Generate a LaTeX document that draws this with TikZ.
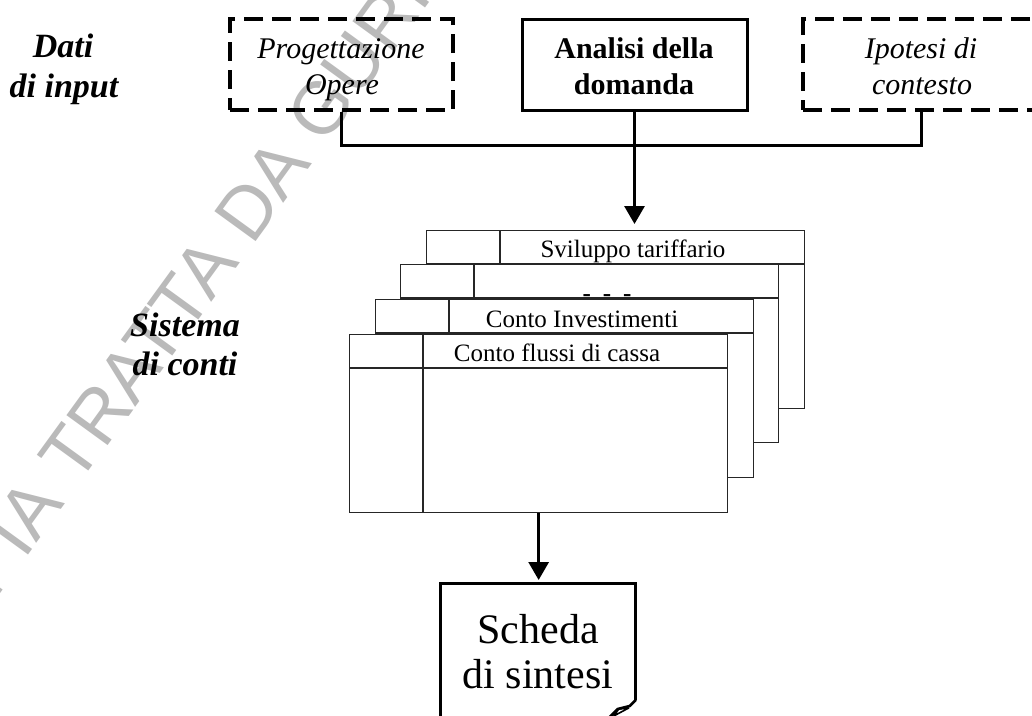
\documentclass[tikz,border=0pt]{standalone}
\usepackage{fontspec}
\setmainfont{Liberation Serif}
\newfontfamily\wmfont{Liberation Sans}
\usetikzlibrary{arrows.meta,calc}
\begin{document}
\begin{tikzpicture}[x=1pt,y=-1pt,
  dbox/.style={draw=black, line width=3.2pt, dash pattern=on 19pt off 9pt, inner sep=0pt},
  sbox/.style={draw=black, line width=3pt, inner sep=0pt},
  card/.style={draw=black!85, line width=1.3pt, fill=white, minimum width=378pt, minimum height=178pt, inner sep=0pt, anchor=north west},
  cardline/.style={draw=black!85, line width=1.3pt},
  conn/.style={line width=3pt, draw=black},
  arr/.style={conn, -{Triangle[length=18pt,width=20pt]}},
  lbl/.style={font=\fontsize{34}{40}\selectfont\bfseries\itshape, anchor=base, inner sep=0pt},
  boxtxt/.style={font=\fontsize{30}{36}\selectfont, anchor=base, inner sep=0pt},
  itxt/.style={boxtxt, font=\fontsize{30}{36}\selectfont\itshape},
  btxt/.style={boxtxt, font=\fontsize{30}{36}\selectfont\bfseries},
  cardtxt/.style={font=\fontsize{25}{30}\selectfont, anchor=base, inner sep=0pt},
  bigtxt/.style={font=\fontsize{42}{48}\selectfont, anchor=base, inner sep=0pt},
  wm/.style={font=\wmfont\fontsize{74}{80}\selectfont, text=black!27, anchor=base west, rotate=54, inner sep=0pt},
]
\useasboundingbox (0,0) rectangle (1032,715);
\clip (0,0) rectangle (1032,715);
\fill[white] (0,0) rectangle (1032,715);

% watermark
\node[wm] (wmark) at (-70,690) {COPIA TRATTA DA GURITEL};

% side labels
\node[lbl] (dati1) at (63,57) {Dati};
\node[lbl] (dati2) at (64,97) {di input};
\node[lbl] (sis1) at (185,336) {Sistema};
\node[lbl] (sis2) at (185,375) {di conti};

% input boxes
\node[dbox, minimum width=223pt, minimum height=91pt] (prog) at (341.5,64.5) {};
\node[sbox, minimum width=225pt, minimum height=91pt] (ana) at (634.5,64.5) {};
\node[dbox, minimum width=236pt, minimum height=91pt] (ipo) at (921,64.5) {};
\node[itxt] (prog1) at (341,58) {Progettazione};
\node[itxt] (prog2) at (342,94) {Opere};
\node[btxt] (ana1) at (634,58) {Analisi della};
\node[btxt] (ana2) at (634,94) {domanda};
\node[itxt] (ipo1) at (921,58) {Ipotesi di};
\node[itxt] (ipo2) at (922,94) {contesto};

% connectors
\coordinate (j) at (634.5,145);
\draw[conn, line join=miter] (prog.south) |- (j) -| (ipo.south);

% cards (back to front)
\node[card] (c1) at (426,230) {};
\draw[cardline] ($(c1.north west)+(0,34)$) -- ($(c1.north east)+(0,34)$);
\draw[cardline] ($(c1.north west)+(74,0)$) -- ($(c1.south west)+(74,0)$);
\node[cardtxt] (t1) at ($(c1.north west)+(207,27)$) {Sviluppo tariffario};

\node[card] (c2) at (400,264) {};
\draw[cardline] ($(c2.north west)+(0,34)$) -- ($(c2.north east)+(0,34)$);
\draw[cardline] ($(c2.north west)+(74,0)$) -- ($(c2.south west)+(74,0)$);
\node[cardtxt, font=\fontsize{25}{30}\selectfont\bfseries] (t2) at ($(c2.north west)+(207,37)$) {-\hspace{12pt}-\hspace{12pt}-};

\node[card] (c3) at (375,299) {};
\draw[cardline] ($(c3.north west)+(0,34)$) -- ($(c3.north east)+(0,34)$);
\draw[cardline] ($(c3.north west)+(74,0)$) -- ($(c3.south west)+(74,0)$);
\node[cardtxt] (t3) at ($(c3.north west)+(207,28)$) {Conto Investimenti};

\node[card] (c4) at (349,334) {};
\draw[cardline] ($(c4.north west)+(0,34)$) -- ($(c4.north east)+(0,34)$);
\draw[cardline] ($(c4.north west)+(74,0)$) -- ($(c4.south west)+(74,0)$);
\node[cardtxt] (t4) at ($(c4.north west)+(208,27)$) {Conto flussi di cassa};

\draw[arr, shorten >=6pt] (ana.south) -- (ana.south |- c1.north);

% summary sheet
\node[inner sep=0pt, minimum width=195pt, minimum height=140pt, anchor=north] (sch) at (538,583) {};
\draw[line width=3pt, line join=miter] ($(sch.north west)+(0,150)$) -- (sch.north west) -- (sch.north east) -- ++(0,117) coordinate (curl);
\draw[line width=2.6pt, line join=round, line cap=round] (curl) -- ++(-6,6) -- ++(-12,3) -- ++(-9,9);
\draw[line width=1.6pt, line join=round] ($(curl)+(-17,9)$) -- ++(10,-1) -- ++(-15,8) -- cycle;
\node[bigtxt] (sch1) at (538,643) {Scheda};
\node[bigtxt] (sch2) at (538,688) {di sintesi};

\draw[arr, shorten >=3pt] (c4.south) -- (c4.south |- sch.north);
\end{tikzpicture}
\end{document}
